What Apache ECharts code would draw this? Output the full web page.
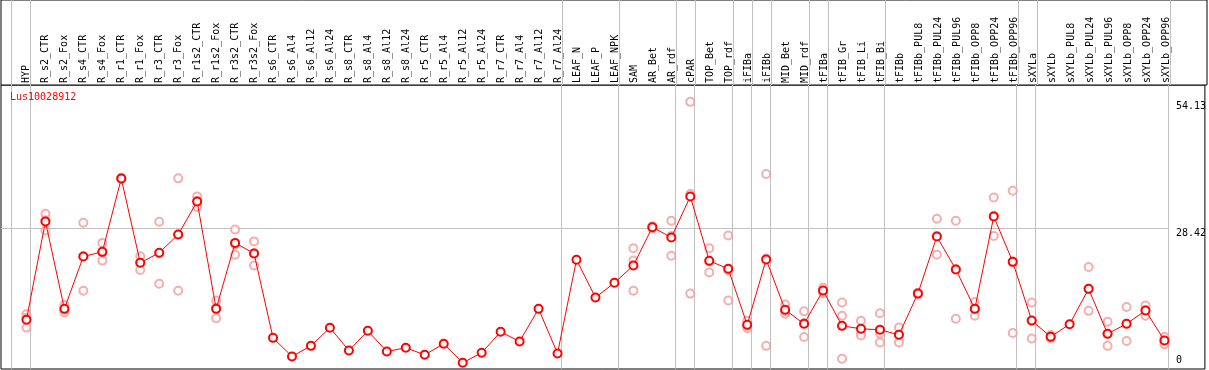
<!DOCTYPE html>
<html>
<head>
<meta charset="utf-8">
<script src="https://cdn.jsdelivr.net/npm/echarts@6.0.0/dist/echarts.min.js"></script>
<style>
  html, body { margin: 0; padding: 0; background: #fff; }
  #chart { width: 1209px; height: 370px; }
</style>
</head>
<body>
<div id="chart"></div>
<script>
// ---------------- data ----------------
const geneName = 'Lus10028912';

const categories = [
  'HYP', 'R_s2_CTR', 'R_s2_Fox', 'R_s4_CTR', 'R_s4_Fox', 'R_r1_CTR', 'R_r1_Fox',
  'R_r3_CTR', 'R_r3_Fox', 'R_r1s2_CTR', 'R_r1s2_Fox', 'R_r3s2_CTR', 'R_r3s2_Fox',
  'R_s6_CTR', 'R_s6_Al4', 'R_s6_Al12', 'R_s6_Al24', 'R_s8_CTR', 'R_s8_Al4',
  'R_s8_Al12', 'R_s8_Al24', 'R_r5_CTR', 'R_r5_Al4', 'R_r5_Al12', 'R_r5_Al24',
  'R_r7_CTR', 'R_r7_Al4', 'R_r7_Al12', 'R_r7_Al24', 'LEAF_N', 'LEAF_P', 'LEAF_NPK',
  'SAM', 'AR_Bet', 'AR_rdf', 'cPAR', 'TOP_Bet', 'TOP_rdf', 'iFIBa', 'iFIBb',
  'MID_Bet', 'MID_rdf', 'tFIBa', 'tFIB_Gr', 'tFIB_Li', 'tFIB_Bi', 'tFIBb',
  'tFIBb_PUL8', 'tFIBb_PUL24', 'tFIBb_PUL96', 'tFIBb_OPP8', 'tFIBb_OPP24', 'tFIBb_OPP96',
  'sXYLa', 'sXYLb', 'sXYLb_PUL8', 'sXYLb_PUL24', 'sXYLb_PUL96', 'sXYLb_OPP8',
  'sXYLb_OPP24', 'sXYLb_OPP96'
];

// mean expression (red line)
const meanValues = [
  9.88, 29.84, 12.11, 22.74, 23.68, 38.57, 21.45, 23.48, 27.2, 33.9,
  12.11, 25.5, 23.35, 6.22, 2.44, 4.6, 8.26, 3.65, 7.65, 3.45,
  4.2, 2.78, 5.01, 1.16, 3.19, 7.45, 5.48, 12.11, 3.05, 22.07,
  14.41, 17.4, 20.91, 28.69, 26.59, 34.92, 21.86, 20.24, 8.87, 22.13,
  11.91, 9.07, 15.83, 8.66, 8.06, 7.86, 6.84, 15.23, 26.8, 20.1,
  12.11, 30.86, 21.65, 9.74, 6.43, 9.0, 16.17, 7.04, 9.07, 11.77,
  5.68
];

// replicate values (pink circles); null = no separate replicate visible
const replicate1 = [
  11.0, 31.4, 12.9, 29.6, 25.5, 38.7, 22.8, 29.8, 38.6, 34.9,
  13.8, 28.2, 25.8, null, null, null, null, null, null, null,
  null, null, null, null, null, null, null, null, null, null,
  null, null, 24.4, 28.4, 30.0, 54.13, 24.4, 27.0, 9.7, 39.5,
  13.0, 11.6, 16.4, 13.4, 9.7, 11.2, 8.3, 15.4, 30.4, 30.0,
  13.5, 34.7, 36.1, 13.4, 6.8, null, 20.6, 9.5, 12.5, 12.8,
  6.4
];
const replicate2 = [
  10.3, 28.0, 11.4, 15.8, 21.9, 38.5, 20.0, 17.2, 15.8, 32.8,
  10.2, 23.1, 20.9, null, null, null, null, null, null, null,
  null, null, null, null, null, null, null, null, null, null,
  null, null, 21.9, 28.9, 22.9, 15.2, 19.5, 13.8, 8.2, 4.6,
  11.1, 6.4, 15.3, 10.7, 7.2, 5.3, 5.3, 15.0, 23.1, 10.1,
  10.7, 26.9, 7.2, 6.1, 6.1, null, 11.7, 4.6, 5.6, 10.7,
  4.9
];
const replicate3 = [
  8.3, 30.1, 12.0, 22.8, 23.6, 38.6, 21.5, 23.4, 27.2, 34.0,
  12.3, 25.2, 23.4, null, null, null, null, null, null, null,
  null, null, null, null, null, null, null, null, null, null,
  null, null, 15.8, 28.7, 26.9, 35.4, 21.7, 19.9, 8.7, 22.3,
  11.6, 9.2, 15.8, 2.0, 6.7, 7.1, 6.9, 15.3, 26.9, 20.2,
  12.1, 31.0, 21.7, 9.7, 6.4, null, 16.2, 7.0, 9.1, 11.8,
  5.7
];

// index of the last category of each group (separator lines); -1 = before first
const groupEnds = [-1, 0, 28, 31, 34, 35, 37, 38, 39, 41, 42, 45, 52, 53, 60];

// right-hand axis labels
const yTickLabels = [28.42, 54.13];
const yZeroLabel = [0];
const referenceLevel = 28.42;

// ---------------- layout (pixels) ----------------
const GRID_L = 1, GRID_R = 1207, HEADER_T = 0, HEADER_B = 85, PLOT_B = 369;
const FIRST_X = 26.5, PX_PER_CAT = 19;
const ZERO_Y = 368.5, REF_Y = 228.5;
const PX_PER_UNIT = (ZERO_Y - REF_Y) / referenceLevel;
const PLOT_R = 1170;
const SEP_OFFSET = 4 / PX_PER_CAT;

const xMin = (GRID_L - FIRST_X) / PX_PER_CAT;
const xMax = (GRID_R - FIRST_X) / PX_PER_CAT;
const yMin = -(PLOT_B - ZERO_Y) / PX_PER_UNIT;
const yMax = (ZERO_Y - HEADER_B) / PX_PER_UNIT;
const plotRightX = (PLOT_R - FIRST_X) / PX_PER_CAT;

const FONT = '"DejaVu Sans Mono", "Liberation Mono", monospace';

const meanData = meanValues.map((v, i) => [i, v]);
const headerAnchors = categories.map((_, i) => [i, 0]);
const repData = [];
[replicate1, replicate2, replicate3].forEach(arr => {
  arr.forEach((v, i) => { if (v !== null) repData.push([i, v]); });
});

const sepLineStyle = { color: '#c0c0c0', width: 1, type: 'solid' };
const separators = groupEnds.map(b => ({ xAxis: b + SEP_OFFSET }));

const chart = echarts.init(document.getElementById('chart'), null, { renderer: 'canvas' });

const hiddenAxis = {
  axisLine: { show: false, onZero: false },
  axisTick: { show: false },
  splitLine: { show: false },
  axisLabel: { show: false }
};

const plotYAxisBase = {
  type: 'value',
  gridIndex: 0,
  position: 'right',
  offset: -(GRID_R - PLOT_R),
  min: yMin,
  max: yMax,
  axisLine: { show: false, onZero: false },
  axisTick: { show: false },
  splitLine: { show: false }
};

chart.setOption({
  animation: false,
  backgroundColor: '#fff',
  title: {
    text: geneName,
    left: 10,
    top: 92,
    padding: 0,
    textStyle: { color: '#ff0000', fontSize: 10, fontWeight: 'normal', fontFamily: FONT }
  },
  grid: [
    { // plot area
      left: GRID_L, top: HEADER_B, width: GRID_R - GRID_L, height: PLOT_B - HEADER_B,
      show: true, borderColor: '#000', borderWidth: 1, backgroundColor: '#fff'
    },
    { // header with sample names
      left: GRID_L, top: HEADER_T, width: GRID_R - GRID_L, height: HEADER_B - HEADER_T,
      show: true, borderColor: '#000', borderWidth: 1, backgroundColor: '#fff'
    }
  ],
  xAxis: [
    Object.assign({ type: 'value', gridIndex: 0, min: xMin, max: xMax }, hiddenAxis),
    {
      type: 'value', gridIndex: 1, position: 'bottom', min: xMin, max: xMax,
      axisLine: { show: false, onZero: false },
      axisTick: { show: false },
      splitLine: { show: false },
      axisLabel: {
        customValues: categories.map((_, i) => i),
        formatter: v => categories[Math.round(v)],
        inside: true,
        rotate: 90,
        margin: 2,
        color: '#000',
        fontSize: 10,
        fontFamily: FONT,
        hideOverlap: false
      }
    }
  ],
  yAxis: [
    Object.assign({}, plotYAxisBase, {
      axisLabel: {
        customValues: yTickLabels,
        formatter: v => String(v),
        verticalAlign: 'top',
        margin: 8,
        color: '#000',
        fontSize: 10,
        fontFamily: FONT
      }
    }),
    Object.assign({}, plotYAxisBase, {
      axisLabel: {
        customValues: yZeroLabel,
        formatter: v => String(v),
        verticalAlign: 'bottom',
        padding: [0, 0, 3, 0],
        margin: 8,
        color: '#000',
        fontSize: 10,
        fontFamily: FONT
      }
    }),
    Object.assign({ type: 'value', gridIndex: 1, min: 0, max: 1 }, hiddenAxis)
  ],
  series: [
    {
      type: 'scatter',
      name: 'header',
      xAxisIndex: 1,
      yAxisIndex: 2,
      data: headerAnchors,
      symbol: 'none',
      symbolSize: 0,
      silent: true,
      markLine: {
        silent: true, symbol: 'none', label: { show: false },
        lineStyle: sepLineStyle, emphasis: { disabled: true },
        data: separators
      }
    },
    {
      type: 'scatter',
      name: 'replicates',
      xAxisIndex: 0,
      yAxisIndex: 0,
      data: repData,
      z: 2,
      symbol: 'emptyCircle',
      symbolSize: 8,
      itemStyle: { color: '#f29a9a', borderColor: '#f29a9a', borderWidth: 1.1 },
      silent: true,
      markLine: {
        silent: true, symbol: 'none', z: 1, label: { show: false },
        lineStyle: sepLineStyle, emphasis: { disabled: true },
        data: separators.concat([
          [{ coord: [xMin, referenceLevel] }, { coord: [plotRightX, referenceLevel] }]
        ])
      }
    },
    {
      type: 'line',
      name: 'mean',
      xAxisIndex: 0,
      yAxisIndex: 0,
      data: meanData,
      z: 3,
      symbol: 'emptyCircle',
      symbolSize: 8,
      showAllSymbol: true,
      lineStyle: { color: '#ff0000', width: 1 },
      itemStyle: { color: '#ff0000', borderColor: '#ff0000', borderWidth: 1.3 },
      silent: true
    }
  ]
});
</script>
</body>
</html>
